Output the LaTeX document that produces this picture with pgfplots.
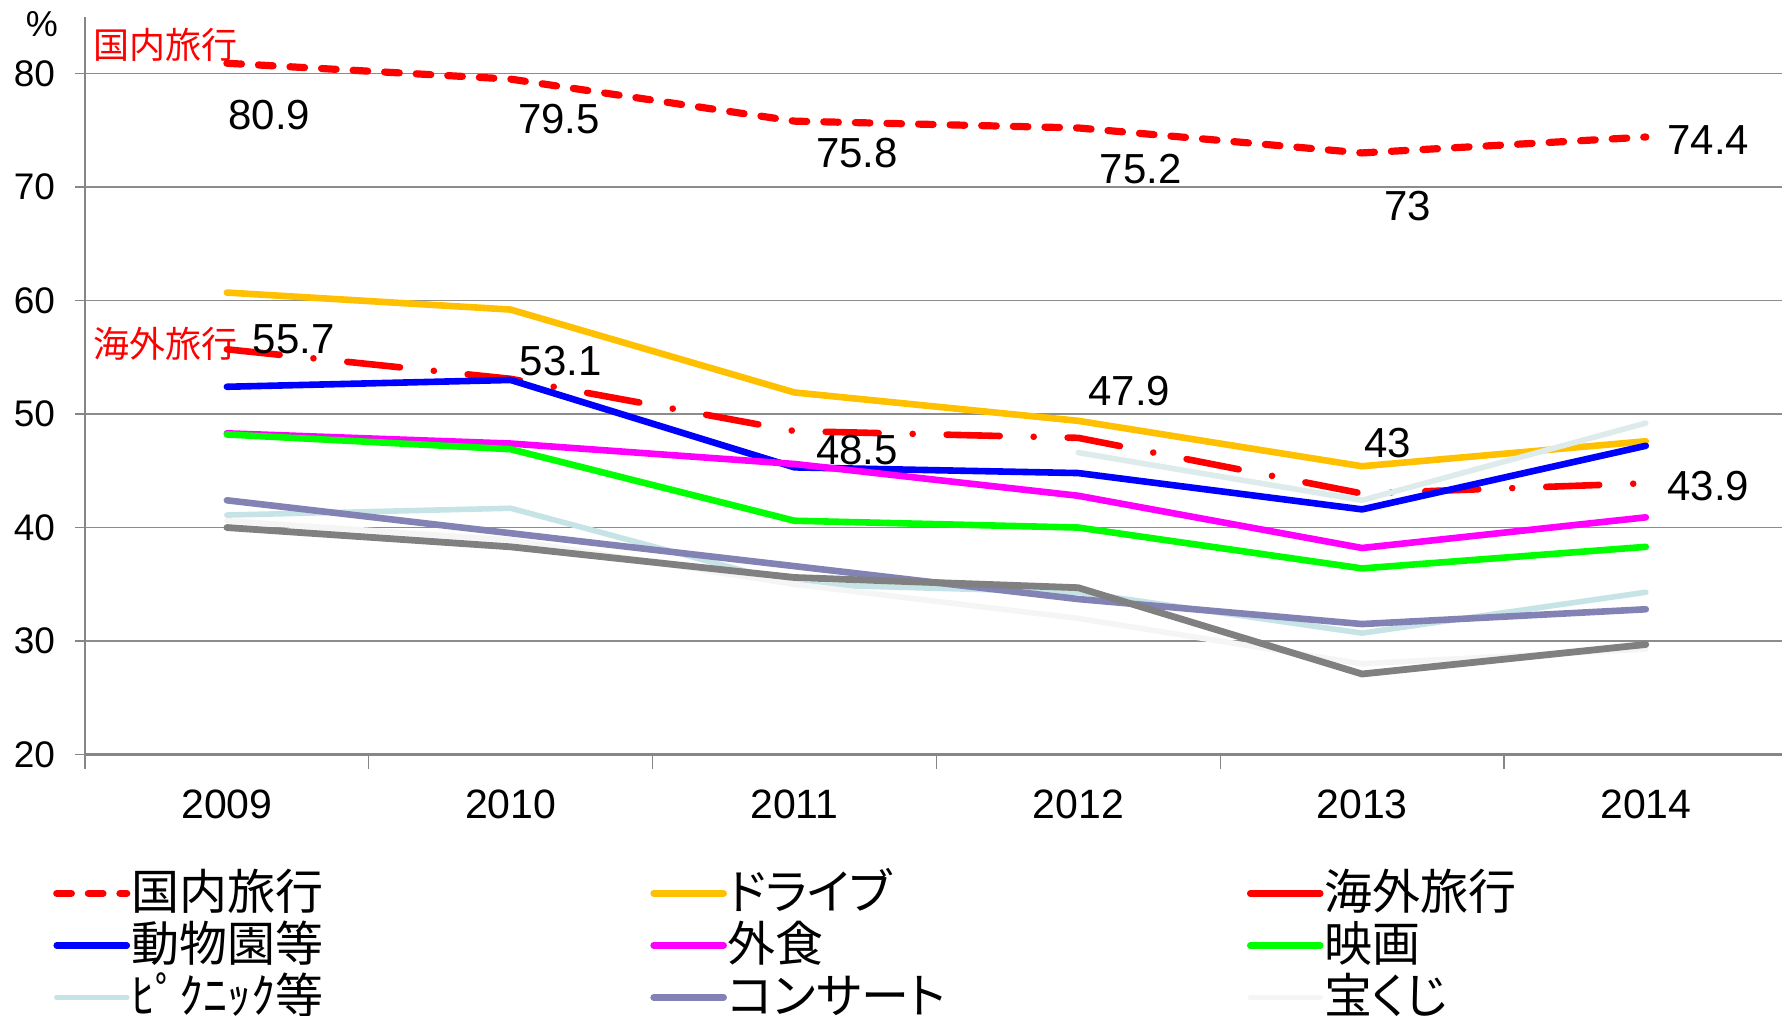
\documentclass[border=0pt]{standalone}
\usepackage{fontspec}
\setmainfont{Liberation Sans}
\newfontfamily\jp{Noto Sans CJK JP}
\newfontfamily\jpp[RawFeature=+palt]{Noto Sans CJK JP}
\usepackage{pgfplots}
\pgfplotsset{compat=1.18}
\definecolor{cRed}{HTML}{FF0000}
\definecolor{cDrive}{HTML}{FFC000}
\definecolor{cZoo}{HTML}{0000FF}
\definecolor{cFood}{HTML}{FF00FF}
\definecolor{cMovie}{HTML}{00FF00}
\definecolor{cPicnic}{HTML}{C6E3E6}
\definecolor{cConcert}{HTML}{8282B4}
\definecolor{cLottery}{HTML}{F5F5F5}
\definecolor{cGray}{HTML}{808080}
\definecolor{cPale}{HTML}{DDEBEB}
\definecolor{axgray}{HTML}{868686}
\definecolor{gridgray}{HTML}{8C8C8C}
\pgfplotsset{
  linelegend/.style={legend image code/.code={\draw[##1] (0pt,0pt) -- (35pt,0pt);}},
  solidlegend/.style={legend image code/.code={\draw[##1, solid] (0pt,0pt) -- (35pt,0pt);}},
}
\begin{document}
\begin{tikzpicture}
\useasboundingbox (0,0) rectangle (891pt,508pt);
\begin{axis}[
  at={(42.5pt,130.7pt)}, anchor=south west,
  scale only axis, width=848.5pt, height=368.95pt,
  xmin=-0.5, xmax=5.48, ymin=20, ymax=85,
  clip=false,
  axis x line*=bottom, axis y line*=left,
  x axis line style={draw=axgray, line width=1.5pt},
  y axis line style={draw=axgray, line width=1pt},
  xtick={0,1,2,3,4,5},
  xticklabels={2009,2010,2011,2012,2013,2014},
  minor xtick={-0.5,0.5,1.5,2.5,3.5,4.5},
  xtick style={draw=none},
  minor x tick style={draw=axgray, line width=0.6pt},
  ytick={20,30,40,50,60,70,80},
  ytick style={draw=axgray, line width=0.8pt},
  tick align=outside,
  major tick length=5pt, minor tick length=7pt,
  ymajorgrids=true,
  major grid style={draw=gridgray, line width=0.8pt},
  /pgf/number format/assume math mode=true,
  yticklabel style={font=\fontsize{18.5}{18.5}\selectfont, xshift=-6.5pt},
  xticklabel style={font=\fontsize{20.5}{20.5}\selectfont, yshift=-9pt},
  legend columns=3,
  legend cell align=left,
  legend style={at={(-0.019,-0.1523)}, anchor=north west, draw=none, fill=none,
    inner xsep=0pt, inner ysep=0pt, row sep=0pt, column sep=0pt,
    font=\jpp\fontsize{24}{24}\selectfont,
    nodes={inner xsep=0.5pt, inner ysep=0pt, text height=21pt, text depth=5pt}},
  linelegend,
  every axis plot/.append style={line width=3.3pt, line cap=round, line join=round},
]
\addplot[color=cRed, line width=3.6pt, dash pattern=on 7.3pt off 8.5pt]
  coordinates {(0,80.9) (1,79.5) (2,75.8) (3,75.2) (4,73) (5,74.4)};
\addlegendentry{\makebox[259pt][l]{国内旅行}}
\addplot[color=cDrive] coordinates {(0,60.7) (1,59.2) (2,51.9) (3,49.4) (4,45.4) (5,47.6)};
\addlegendentry{\makebox[259pt][l]{ドライブ}}
\addplot[color=cRed, dash pattern=on 26.5pt off 17pt on 0.01pt off 17pt, solidlegend]
  coordinates {(0,55.7) (1,53.1) (2,48.5) (3,47.9) (4,43) (5,43.9)};
\addlegendentry{\makebox[200pt][l]{海外旅行}}
\addplot[color=cZoo] coordinates {(0,52.4) (1,53.0) (2,45.3) (3,44.8) (4,41.6) (5,47.2)};
\addlegendentry{\makebox[259pt][l]{動物園等}}
\addplot[color=cFood] coordinates {(0,48.3) (1,47.4) (2,45.6) (3,42.8) (4,38.2) (5,40.9)};
\addlegendentry{\makebox[259pt][l]{外食}}
\addplot[color=cMovie] coordinates {(0,48.2) (1,46.9) (2,40.6) (3,40.0) (4,36.4) (5,38.3)};
\addlegendentry{\makebox[200pt][l]{映画}}
\addplot[color=cPicnic, line width=2.8pt] coordinates {(0,41.1) (1,41.7) (2,35.0) (3,34.3) (4,30.7) (5,34.3)};
\addlegendentry{\makebox[259pt][l]{{\jp ﾋﾟｸﾆｯｸ等}}}
\addplot[color=cConcert] coordinates {(0,42.4) (1,39.5) (2,36.6) (3,33.7) (4,31.5) (5,32.8)};
\addlegendentry{\makebox[259pt][l]{コンサート}}
\addplot[color=cLottery, line width=2.8pt] coordinates {(0,40.6) (1,38.9) (2,35.0) (3,32.0) (4,28.0) (5,29.3)};
\addlegendentry{\makebox[200pt][l]{宝くじ}}
\addplot[color=cPale, line width=2.8pt, forget plot] coordinates {(3,46.6) (4,42.4) (5,49.2)};
\addplot[color=cGray, line width=3.4pt, forget plot] coordinates {(0,40.0) (1,38.3) (2,35.6) (3,34.7) (4,27.1) (5,29.7)};
% data labels
\begin{scope}[every node/.style={font=\fontsize{21}{21}\selectfont, inner sep=0pt}]
\node at (axis cs:0.15,76.37) {80.9};
\node at (axis cs:1.17,76.0) {79.5};
\node at (axis cs:2.22,73.0) {75.8};
\node at (axis cs:3.22,71.6) {75.2};
\node at (axis cs:4.16,68.36) {73};
\node at (axis cs:5.22,74.17) {74.4};
\node at (axis cs:0.235,56.56) {55.7};
\node at (axis cs:1.176,54.63) {53.1};
\node at (axis cs:2.22,46.8) {48.5};
\node at (axis cs:3.18,52.0) {47.9};
\node at (axis cs:4.09,47.4) {43};
\node at (axis cs:5.22,43.7) {43.9};
\end{scope}
\node[anchor=west, inner sep=0pt, text=cRed, font=\jp\fontsize{18}{18}\selectfont] at (axis cs:-0.47,82.5) {国内旅行};
\node[anchor=west, inner sep=0pt, text=cRed, font=\jp\fontsize{18}{18}\selectfont] at (axis cs:-0.47,56.2) {海外旅行};
\end{axis}
\node[inner sep=0pt, font=\fontsize{18}{18}\selectfont] at (21pt,496pt) {\%};
\end{tikzpicture}
\end{document}
